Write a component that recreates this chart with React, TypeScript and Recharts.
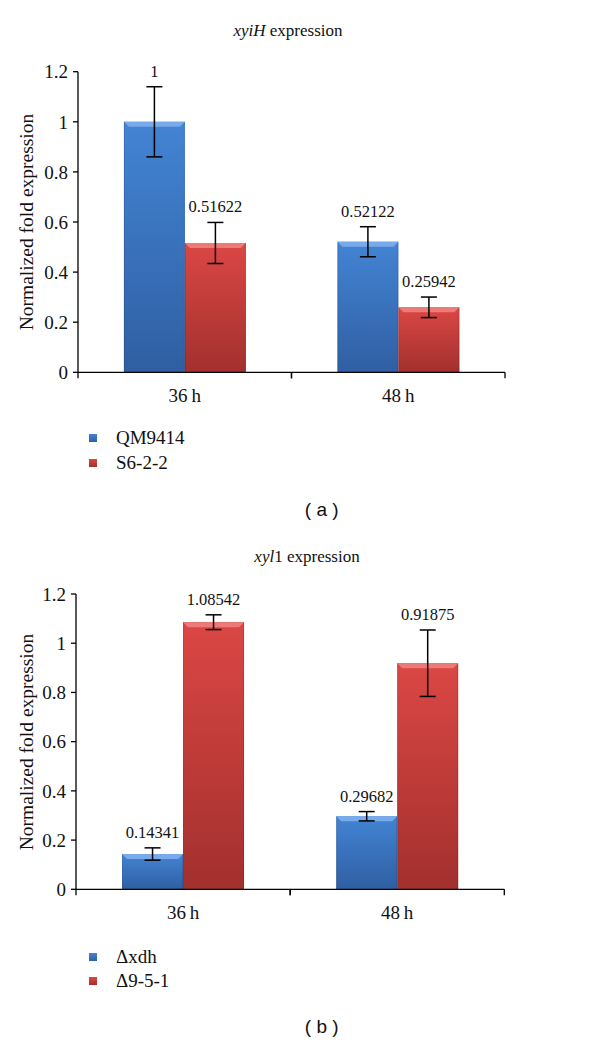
import React from 'react';
import { BarChart, Bar, XAxis, YAxis, ErrorBar, LabelList } from 'recharts';

// ---------- data ----------
const categories = ['36\u2009h', '48\u2009h'];
const yTicks = [0, 0.2, 0.4, 0.6, 0.8, 1, 1.2];

// panel (a) xyiH
const qm9414Values = [1, 0.52122];
const s622Values = [0.51622, 0.25942];
const qm9414Errors = [0.14, 0.06];
const s622Errors = [0.082, 0.041];

// panel (b) xyl1
const dxdhValues = [0.14341, 0.29682];
const d951Values = [1.08542, 0.91875];
const dxdhErrors = [0.025, 0.019];
const d951Errors = [0.03, 0.135];

const SERIF = '"Liberation Serif", "Times New Roman", serif';
const SANS = '"Liberation Sans", Arial, sans-serif';

const BLUE = { top: '#4384d4', bottom: '#2f5f a2'.replace(' ', ''), bevel: '#79aaea', legend: '#3b78c6' };
const RED = { top: '#db4744', bottom: '#a2302e', bevel: '#ec7a77', legend: '#c83c3a' };

const buildRows = (a: number[], b: number[], ea: number[], eb: number[]) =>
  categories.map((c, i) => ({ cat: c, s1: a[i], s2: b[i], e1: ea[i], e2: eb[i] }));

const BevelBar = (gid: string, bevel: string) => (props: any) => {
  const { x, y, width, height } = props;
  if (width == null || height == null || height <= 0) return null;
  const b = Math.min(5, height / 2);
  return (
    <g>
      <rect x={x} y={y} width={width} height={height} fill={`url(#${gid})`} />
      <polygon
        points={`${x},${y} ${x + width},${y} ${x + width - b},${y + b} ${x + b},${y + b}`}
        fill={bevel}
      />
      <line x1={x + 0.5} y1={y} x2={x + 0.5} y2={y + height} stroke="rgba(0,0,0,0.12)" />
      <line x1={x + width - 0.5} y1={y} x2={x + width - 0.5} y2={y + height} stroke="rgba(0,0,0,0.12)" />
    </g>
  );
};

const ValueLabel = (errors: number[]) => (props: any) => {
  const { x, y, width, height, value, index } = props;
  if (value == null) return null;
  const pxPerUnit = height / value;
  const errTop = y - errors[index] * pxPerUnit;
  return (
    <text
      x={x + width / 2}
      y={errTop - 10}
      textAnchor="middle"
      fontFamily={SERIF}
      fontSize={16.5}
      fill="#111"
    >
      {String(value)}
    </text>
  );
};

const CategoryTick = (props: any) => {
  const { x, y, payload } = props;
  const off = payload && payload.offset ? payload.offset : 107;
  return (
    <g>
      <line x1={x - off} y1={y} x2={x - off} y2={y + 6} stroke="#000" strokeWidth={1.3} />
      <line x1={x + off} y1={y} x2={x + off} y2={y + 6} stroke="#000" strokeWidth={1.3} />
      <text x={x} y={y + 30} textAnchor="middle" fontFamily={SERIF} fontSize={19} fill="#111">
        {payload.value}
      </text>
    </g>
  );
};

type PanelProps = {
  top: number;
  rows: any[];
  margin: { top: number; left: number; right: number; bottom: number };
  e1: number[];
  e2: number[];
  gidPrefix: string;
};

const Panel = ({ top, rows, margin, e1, e2, gidPrefix }: PanelProps) => (
  <div style={{ position: 'absolute', left: 0, top, width: 600, height: 420 }}>
    <BarChart width={600} height={420} data={rows} margin={margin} barCategoryGap="21.5%" barGap={0}>
      <defs>
        <linearGradient id={`${gidPrefix}b`} x1="0" y1="0" x2="0" y2="1">
          <stop offset="0%" stopColor={BLUE.top} />
          <stop offset="100%" stopColor={BLUE.bottom} />
        </linearGradient>
        <linearGradient id={`${gidPrefix}r`} x1="0" y1="0" x2="0" y2="1">
          <stop offset="0%" stopColor={RED.top} />
          <stop offset="100%" stopColor={RED.bottom} />
        </linearGradient>
      </defs>
      <XAxis
        dataKey="cat"
        type="category"
        height={30}
        axisLine={{ stroke: '#000', strokeWidth: 1.3 }}
        tickLine={false}
        tickSize={0}
        tickMargin={0}
        tick={<CategoryTick />}
        interval={0}
      />
      <YAxis
        type="number"
        domain={[0, 1.2]}
        ticks={yTicks}
        width={60}
        axisLine={{ stroke: '#000', strokeWidth: 1.3 }}
        tickLine={{ stroke: '#000', strokeWidth: 1.3 }}
        tickSize={5}
        tickMargin={5}
        tick={{ fontFamily: SERIF, fontSize: 19, fill: '#111' }}
        interval={0}
      />
      <Bar dataKey="s1" isAnimationActive={false} shape={BevelBar(`${gidPrefix}b`, BLUE.bevel)}>
        <ErrorBar dataKey="e1" width={8} stroke="#000" strokeWidth={1.5} direction="y" />
        <LabelList dataKey="s1" content={ValueLabel(e1)} />
      </Bar>
      <Bar dataKey="s2" isAnimationActive={false} shape={BevelBar(`${gidPrefix}r`, RED.bevel)}>
        <ErrorBar dataKey="e2" width={8} stroke="#000" strokeWidth={1.5} direction="y" />
        <LabelList dataKey="s2" content={ValueLabel(e2)} />
      </Bar>
    </BarChart>
  </div>
);

const LegendItem = ({ y, color, text }: { y: number; color: { top: string; bottom: string }; text: string }) => (
  <>
    <div
      style={{
        position: 'absolute',
        left: 89,
        top: y - 4,
        width: 8,
        height: 8,
        background: `linear-gradient(${color.top}, ${color.bottom})`,
      }}
    />
    <div
      style={{
        position: 'absolute',
        left: 116,
        top: y - 12,
        height: 24,
        lineHeight: '24px',
        fontFamily: SERIF,
        fontSize: 19,
        color: '#111',
        whiteSpace: 'nowrap',
      }}
    >
      {text}
    </div>
  </>
);

const CenterText = ({ x, y, children, font, size, style }: any) => (
  <div
    style={{
      position: 'absolute',
      left: x - 200,
      top: y - 15,
      width: 400,
      height: 30,
      lineHeight: '30px',
      textAlign: 'center',
      fontFamily: font,
      fontSize: size,
      color: '#111',
      whiteSpace: 'nowrap',
      ...style,
    }}
  >
    {children}
  </div>
);

const YLabel = ({ cx, cy }: { cx: number; cy: number }) => (
  <div
    style={{
      position: 'absolute',
      left: cx - 150,
      top: cy - 14,
      width: 300,
      height: 28,
      lineHeight: '28px',
      textAlign: 'center',
      fontFamily: SERIF,
      fontSize: 19.5,
      color: '#111',
      transform: 'rotate(-90deg)',
      whiteSpace: 'nowrap',
    }}
  >
    Normalized fold expression
  </div>
);

export default function App() {
  const rowsA = buildRows(qm9414Values, s622Values, qm9414Errors, s622Errors);
  const rowsB = buildRows(dxdhValues, d951Values, dxdhErrors, d951Errors);
  return (
    <div style={{ position: 'absolute', left: 0, top: 0, width: 600, height: 1043, background: '#fff', overflow: 'hidden' }}>
      {/* panel (a) */}
      <CenterText x={288} y={31} font={SERIF} size={17}>
        <i>xyiH</i> expression
      </CenterText>
      <Panel
        top={0}
        rows={rowsA}
        margin={{ top: 71.7, left: 18, right: 95, bottom: 17.7 }}
        e1={qm9414Errors}
        e2={s622Errors}
        gidPrefix="ga"
      />
      <YLabel cx={27} cy={222} />
      <LegendItem y={438.3} color={BLUE} text="QM9414" />
      <LegendItem y={463.3} color={RED} text="S6-2-2" />
      <CenterText x={321.7} y={510} font={SANS} size={19}>
        (&nbsp;a&nbsp;)
      </CenterText>

      {/* panel (b) */}
      <CenterText x={307} y={557} font={SERIF} size={17}>
        <i>xyl</i>1 expression
      </CenterText>
      <Panel
        top={520}
        rows={rowsB}
        margin={{ top: 74, left: 16, right: 95.7, bottom: 20.7 }}
        e1={dxdhErrors}
        e2={d951Errors}
        gidPrefix="gb"
      />
      <YLabel cx={27} cy={741.6} />
      <LegendItem y={956.7} color={BLUE} text={'\u0394xdh'} />
      <LegendItem y={981} color={RED} text={'\u03949-5-1'} />
      <CenterText x={321.7} y={1026.7} font={SANS} size={19}>
        (&nbsp;b&nbsp;)
      </CenterText>
    </div>
  );
}
